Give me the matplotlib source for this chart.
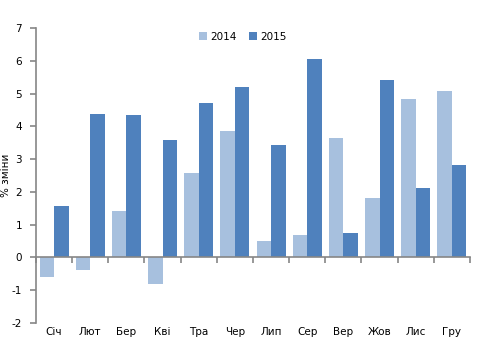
import matplotlib
matplotlib.use("Agg")
import matplotlib.pyplot as plt
import numpy as np

months = ["Січ", "Лют", "Бер", "Кві", "Тра", "Чер", "Лип", "Сер", "Вер", "Жов", "Лис", "Гру"]
vals_2014 = [-0.60, -0.38, 1.43, -0.82, 2.58, 3.87, 0.49, 0.67, 3.63, 1.80, 4.82, 5.08]
vals_2015 = [1.58, 4.39, 4.36, 3.59, 4.72, 5.19, 3.44, 6.06, 0.73, 5.43, 2.13, 2.83]
yticks = [-2, -1, 0, 1, 2, 3, 4, 5, 6, 7]

c14 = "#A7C0DE"
c15 = "#4F81BD"
gray = "#868686"

fig = plt.figure(figsize=(4.8, 3.6), dpi=100)
ax = fig.add_axes([0.075, 0.103, 0.904, 0.819])

x = np.arange(len(months))
w = 0.4
ax.bar(x - w / 2, vals_2014, width=w, color=c14, label="2014")
ax.bar(x + w / 2, vals_2015, width=w, color=c15, label="2015")

ax.set_xlim(-0.5, len(months) - 0.5)
ax.set_ylim(-2, 7)
ax.set_yticks(yticks)
ax.set_yticklabels([str(v) for v in yticks], fontsize=7.5)

ax.spines["top"].set_visible(False)
ax.spines["right"].set_visible(False)
ax.spines["left"].set_color(gray)
ax.spines["bottom"].set_color(gray)
ax.spines["bottom"].set_position(("data", 0))
ax.spines["left"].set_linewidth(1.2)
ax.spines["bottom"].set_linewidth(1.2)

ax.set_xticks(np.arange(-0.5, len(months), 1.0))
ax.set_xticklabels([])
ax.tick_params(axis="x", length=4, color=gray, width=1.2, direction="out")
ax.tick_params(axis="y", length=4, color=gray, width=1.2, direction="out", pad=6)

for i, m in enumerate(months):
    ax.annotate(m, xy=(i, -2), xytext=(0, -3), textcoords="offset points",
                ha="center", va="top", fontsize=7.5)

ax.set_ylabel("% зміни", fontsize=7.5, labelpad=4)
ax.yaxis.set_label_coords(-0.058, 0.5)

ax.legend(loc="center", bbox_to_anchor=(0.506, 0.898), bbox_transform=fig.transFigure,
          ncol=2, frameon=False, fontsize=7.5, handlelength=0.8, handleheight=0.8,
          handletextpad=0.3, columnspacing=1.2)

fig.savefig("out.png", dpi=100)
